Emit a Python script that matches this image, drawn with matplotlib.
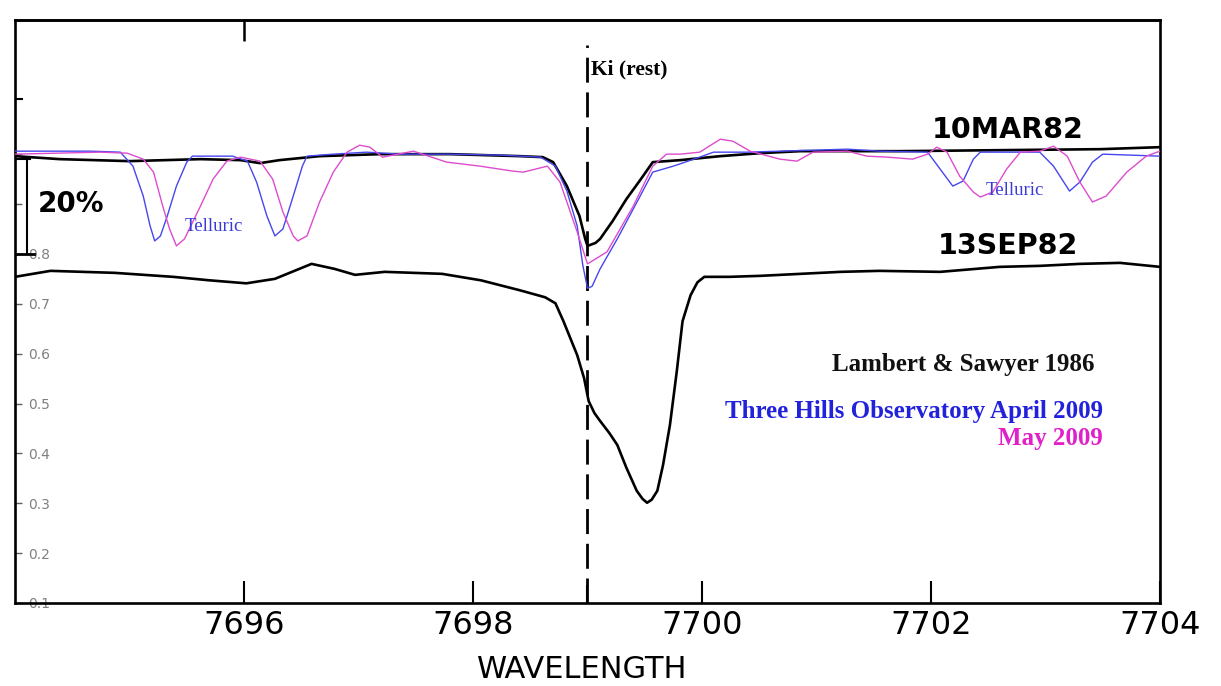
import matplotlib
matplotlib.use('Agg')
import matplotlib.pyplot as plt

# 10MAR82 (Lambert & Sawyer 1986, upper trace)
mar82_wl = [7694.00, 7694.39, 7695.00, 7695.62, 7695.97, 7696.14, 7696.31, 7696.66, 7697.19, 7697.80,
            7698.41, 7698.61, 7698.70, 7698.82, 7698.93, 7698.98, 7699.00, 7699.07, 7699.11, 7699.22,
            7699.34, 7699.46, 7699.57, 7699.81, 7700.16, 7700.51, 7700.86, 7701.73, 7702.60, 7703.48, 7704.00]
mar82_flux = [0.996, 0.990, 0.986, 0.990, 0.988, 0.982, 0.988, 0.996, 1.000, 1.000,
              0.996, 0.994, 0.984, 0.936, 0.876, 0.830, 0.816, 0.822, 0.830, 0.866,
              0.910, 0.948, 0.984, 0.988, 0.996, 1.002, 1.006, 1.006, 1.008, 1.010, 1.014]

# 13SEP82 (lower trace)
sep82_wl = [7694.00, 7694.31, 7694.87, 7695.38, 7695.70, 7696.02, 7696.27, 7696.59, 7696.79, 7696.97,
            7697.23, 7697.73, 7698.07, 7698.41, 7698.63, 7698.72, 7698.79, 7698.85, 7698.91, 7698.97,
            7699.01, 7699.06, 7699.11, 7699.19, 7699.26, 7699.34, 7699.43, 7699.48, 7699.52, 7699.56,
            7699.61, 7699.66, 7699.72, 7699.78, 7699.83, 7699.90, 7699.96, 7700.02, 7700.24, 7700.51,
            7700.86, 7701.21, 7701.55, 7702.08, 7702.60, 7702.95, 7703.30, 7703.65, 7704.00]
sep82_flux = [0.754, 0.766, 0.762, 0.754, 0.747, 0.741, 0.750, 0.780, 0.770, 0.758,
              0.764, 0.760, 0.747, 0.727, 0.713, 0.701, 0.665, 0.631, 0.597, 0.551,
              0.505, 0.481, 0.465, 0.441, 0.417, 0.371, 0.325, 0.309, 0.301, 0.307,
              0.325, 0.377, 0.457, 0.565, 0.665, 0.717, 0.743, 0.754, 0.754, 0.756,
              0.760, 0.764, 0.766, 0.764, 0.774, 0.776, 0.780, 0.782, 0.774]

# Three Hills Observatory, April 2009
apr09_wl = [7694.00, 7694.66, 7694.92, 7695.03, 7695.12, 7695.18, 7695.22, 7695.27, 7695.33, 7695.41,
            7695.50, 7695.55, 7695.90, 7696.03, 7696.11, 7696.20, 7696.27, 7696.34, 7696.43, 7696.51,
            7696.55, 7696.78, 7697.07, 7697.36, 7697.80, 7698.24, 7698.59, 7698.72, 7698.82, 7698.91,
            7698.96, 7699.00, 7699.04, 7699.11, 7699.26, 7699.46, 7699.57, 7699.75, 7699.98, 7700.10,
            7700.39, 7700.68, 7701.27, 7701.55, 7701.97, 7702.08, 7702.19, 7702.28, 7702.37, 7702.43,
            7702.95, 7703.07, 7703.21, 7703.30, 7703.41, 7703.50, 7704.00]
apr09_flux = [1.006, 1.006, 1.004, 0.976, 0.916, 0.856, 0.826, 0.836, 0.876, 0.936,
              0.984, 0.996, 0.996, 0.986, 0.944, 0.876, 0.836, 0.850, 0.916, 0.976,
              0.996, 1.000, 1.004, 1.000, 1.000, 0.998, 0.994, 0.976, 0.926, 0.856,
              0.776, 0.731, 0.735, 0.770, 0.830, 0.916, 0.964, 0.976, 0.994, 1.004,
              1.004, 1.006, 1.010, 1.006, 1.004, 0.970, 0.936, 0.946, 0.990, 1.004,
              1.004, 0.976, 0.926, 0.944, 0.984, 1.000, 0.996]

# May 2009
may09_wl = [7694.00, 7694.74, 7694.98, 7695.12, 7695.21, 7695.29, 7695.35, 7695.41, 7695.48, 7695.62,
            7695.73, 7695.85, 7695.97, 7696.14, 7696.25, 7696.34, 7696.43, 7696.47, 7696.55, 7696.66,
            7696.78, 7696.90, 7697.01, 7697.10, 7697.21, 7697.48, 7697.77, 7698.06, 7698.35, 7698.44,
            7698.65, 7698.76, 7698.91, 7699.00, 7699.17, 7699.40, 7699.57, 7699.69, 7699.81, 7699.98,
            7700.16, 7700.27, 7700.42, 7700.68, 7700.83, 7700.97, 7701.27, 7701.44, 7701.62, 7701.84,
            7701.97, 7702.05, 7702.14, 7702.25, 7702.37, 7702.43, 7702.54, 7702.66, 7702.78, 7702.95,
            7703.07, 7703.19, 7703.30, 7703.41, 7703.53, 7703.71, 7703.88, 7704.00]
may09_flux = [1.000, 1.004, 1.002, 0.990, 0.964, 0.896, 0.850, 0.816, 0.830, 0.896,
              0.950, 0.986, 0.994, 0.986, 0.950, 0.884, 0.836, 0.826, 0.836, 0.904,
              0.964, 1.004, 1.018, 1.014, 0.994, 1.006, 0.984, 0.976, 0.966, 0.964,
              0.976, 0.944, 0.844, 0.780, 0.804, 0.896, 0.976, 1.000, 1.000, 1.004,
              1.030, 1.026, 1.006, 0.990, 0.986, 1.004, 1.006, 0.996, 0.994, 0.990,
              1.000, 1.014, 1.004, 0.956, 0.924, 0.914, 0.924, 0.970, 1.004, 1.006,
              1.016, 0.996, 0.944, 0.904, 0.916, 0.964, 0.996, 1.006]

x_ticks = [7696, 7698, 7700, 7702, 7704]
x_labels = ['7696', '7698', '7700', '7702', '7704']
y_ticks = [0.1, 0.2, 0.3, 0.4, 0.5, 0.6, 0.7, 0.8, 0.9, 1.0]
# 0.9 and 1.0 are hidden behind the 20% mark and the spectra in the original
y_labels = ['0.1', '0.2', '0.3', '0.4', '0.5', '0.6', '0.7', '0.8', '', '']
k_rest = 7699.0

fig = plt.figure(figsize=(12.21, 6.86), dpi=100)
ax = fig.add_axes([15 / 1221, 1 - 603 / 686, 1145 / 1221, 583 / 686])

ax.plot(mar82_wl, mar82_flux, color='black', lw=1.9, zorder=3)
ax.plot(sep82_wl, sep82_flux, color='black', lw=1.9, zorder=3)
ax.plot(apr09_wl, apr09_flux, color='#4646ee', lw=1.0, zorder=4)
ax.plot(may09_wl, may09_flux, color='#dd4ccf', lw=1.0, zorder=4)

# K I rest wavelength
ax.axvline(k_rest, ymin=0, ymax=0.957, color='black', lw=2, ls=(0, (9, 3.5)), zorder=2)
ax.text(k_rest + 0.03, 1.17, 'Ki (rest)', family='Liberation Serif', fontweight='bold',
        fontsize=15.5, va='center', ha='left')

ax.set_xlim(7694, 7704)
ax.set_ylim(0.106, 1.269)

ax.set_xticks(x_ticks)
ax.set_xticklabels(x_labels, fontsize=23, family='DejaVu Sans')
ax.set_xticks([k_rest], minor=True)
ax.tick_params(axis='x', which='major', direction='in', length=16, width=1.5, pad=5)
ax.tick_params(axis='x', which='minor', direction='in', length=13, width=1.5)

# single inward tick on the top frame
top = ax.secondary_xaxis('top')
top.set_xticks([7696])
top.set_xticklabels([''])
top.tick_params(direction='in', length=15, width=1.8)
top.spines['top'].set_linewidth(1.9)

ax.set_yticks(y_ticks)
ax.set_yticklabels(y_labels, fontsize=10, color='#808080')
ax.set_yticks([1.11], minor=True)
ax.tick_params(axis='y', which='major', direction='in', length=5, width=1,
               color='#606060', pad=-9.5)
ax.tick_params(axis='y', which='minor', direction='in', length=6, width=1.5)
for lab in ax.get_yticklabels():
    lab.set_horizontalalignment('left')

for s in ax.spines.values():
    s.set_linewidth(1.9)

# 20% scale bar
ax.plot([7694.0, 7694.13], [0.99, 0.99], color='black', lw=1.5, zorder=5)
ax.plot([7694.105, 7694.105], [0.99, 0.80], color='black', lw=1.5, zorder=5)
ax.plot([7694.0, 7694.17], [0.80, 0.80], color='black', lw=2, zorder=5)
ax.text(7694.49, 0.90, '20%', fontsize=20, fontweight='bold', ha='center', va='center', zorder=6)

ax.text(7702.67, 1.048, '10MAR82', fontsize=20.5, fontweight='bold', ha='center', va='center')
ax.text(7702.67, 0.815, '13SEP82', fontsize=20.5, fontweight='bold', ha='center', va='center')

ax.text(7695.74, 0.854, 'Telluric', family='Liberation Serif', fontsize=13.5,
        color='#3a3ad8', ha='center', va='center', zorder=6)
ax.text(7702.73, 0.928, 'Telluric', family='Liberation Serif', fontsize=13.5,
        color='#3a3ad8', ha='center', va='center', zorder=6)

ax.text(7703.43, 0.579, 'Lambert & Sawyer 1986', family='Liberation Serif', fontweight='bold',
        fontsize=18, color='#111111', ha='right', va='center')
ax.text(7703.50, 0.483, 'Three Hills Observatory April 2009', family='Liberation Serif',
        fontweight='bold', fontsize=18, color='#2222dd', ha='right', va='center')
ax.text(7703.50, 0.429, 'May 2009', family='Liberation Serif', fontweight='bold',
        fontsize=18, color='#e020c8', ha='right', va='center')

fig.text(582 / 1221, 1 - 669 / 686, 'WAVELENGTH', fontsize=22, ha='center', va='center')

fig.savefig('out.png', dpi=100, facecolor='white')
